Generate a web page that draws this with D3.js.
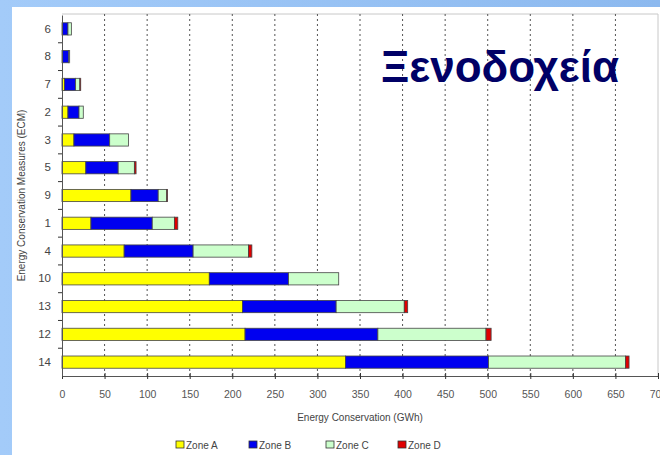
<html>

<head>
    <style>
        body { margin: 0; }
        svg { display: block; font-family: "Liberation Sans", Arial, sans-serif; }
    </style>
</head>

<body>
    <svg id="container" height="455" width="660">
        <defs>
            <linearGradient id="bg" x1="0" y1="0" x2="1" y2="0">
                <stop offset="0" stop-color="#a3cbf9"></stop>
                <stop offset="1" stop-color="#8cb9ef"></stop>
            </linearGradient>
        </defs>
        <rect width="660" height="455" fill="url(#bg)"></rect>
        <rect x="12" y="7" width="648" height="448" fill="#ffffff"></rect>
        <g id="body"></g>
    </svg>
</body>
<script src="https://cdn.jsdelivr.net/npm/d3@7"></script>
<script>
    // measures, top to bottom as drawn
    const categories = ["6", "8", "7", "2", "3", "5", "9", "1", "4", "10", "13", "12", "14"]
    const zoneA = [0, 0, 3, 7, 14, 28, 81, 34, 73, 173, 212, 215, 333]
    const zoneB = [7, 8, 13, 13, 42, 38, 32, 72, 81, 93, 110, 156, 168]
    const zoneC = [4, 1, 5, 5, 22, 19, 10, 26, 65, 59, 80, 127, 161]
    const zoneD = [0, 0, 1, 0, 0, 2, 1, 4, 4, 0, 4, 6, 4]
    const zones = ["Zone A", "Zone B", "Zone C", "Zone D"]
    const xTicks = d3.range(0, 701, 50)

    let body = d3.select("#body")

    let plotLeft = 62, plotRight = 658, plotTop = 15, plotBottom = 376

    let data = categories.map((c, i) => ({
        measure: c,
        "Zone A": zoneA[i],
        "Zone B": zoneB[i],
        "Zone C": zoneC[i],
        "Zone D": zoneD[i]
    }))

    let x = d3.scaleLinear().domain([0, 700]).range([plotLeft, plotRight])
    let y = d3.scaleBand().domain(categories).range([plotTop, plotBottom]).paddingInner(0.56).paddingOuter(0.28)

    let color = d3.scaleOrdinal()
        .domain(zones)
        .range(["#ffff00", "#0000f0", "#ccffcc", "#e00000"])

    // frame (top and right, light)
    body.append("path")
        .attr("d", `M${plotLeft},${plotTop - 1}H${plotRight}V${plotBottom}`)
        .attr("fill", "none")
        .attr("stroke", "#c8c8c8")

    // dashed grid lines
    body.selectAll(".grid")
        .data(xTicks.filter(t => t > 0 && t < 700))
        .enter()
        .append("line")
        .attr("x1", d => x(d)).attr("x2", d => x(d))
        .attr("y1", plotTop - 1).attr("y2", plotBottom)
        .attr("stroke", "#555")
        .attr("stroke-dasharray", "2,3")

    // stacked bars
    let stack = d3.stack().keys(zones)
    let layers = body.selectAll(".layer")
        .data(stack(data))
        .enter()
        .append("g")
        .attr("fill", d => color(d.key))
    layers.selectAll("rect")
        .data(d => d.filter(s => s[1] > s[0]))
        .enter()
        .append("rect")
        .attr("x", d => x(d[0]))
        .attr("y", d => y(d.data.measure))
        .attr("width", d => x(d[1]) - x(d[0]))
        .attr("height", y.bandwidth())
        .attr("stroke", "#444")
        .attr("stroke-width", 0.8)

    // x axis
    let xAxis = body.append("g")
        .attr("transform", `translate(0,${plotBottom})`)
        .call(d3.axisBottom(x).tickValues(xTicks).tickSize(3).tickPadding(12))
    xAxis.select(".domain").attr("stroke", "#555")
    xAxis.selectAll(".tick line").attr("stroke", "#333").attr("y1", -3)
    xAxis.selectAll("text").attr("fill", "#555").attr("font-size", 10.5)
        .attr("font-family", "Liberation Sans, Arial, sans-serif")

    // y axis: ticks sit on band boundaries
    let yAxis = body.append("g")
        .attr("transform", `translate(${plotLeft},0)`)
        .call(d3.axisLeft(y).tickSize(0).tickPadding(11))
    yAxis.select(".domain").attr("stroke", "#555")
    yAxis.selectAll("text").attr("fill", "#444").attr("font-size", 11.5)
        .attr("font-family", "Liberation Sans, Arial, sans-serif")
    let step = y.step()
    body.selectAll(".ytick")
        .data(categories.slice(1))
        .enter()
        .append("line")
        .attr("x1", plotLeft - 4).attr("x2", plotLeft)
        .attr("y1", d => y(d) - (step - y.bandwidth()) / 2)
        .attr("y2", d => y(d) - (step - y.bandwidth()) / 2)
        .attr("stroke", "#333")

    // axis titles
    body.append("text")
        .attr("x", (plotLeft + plotRight) / 2).attr("y", 421)
        .attr("text-anchor", "middle")
        .attr("font-size", 10).attr("fill", "#444")
        .text("Energy Conservation (GWh)")
    body.append("text")
        .attr("transform", `translate(25,${(plotTop + plotBottom) / 2}) rotate(-90)`)
        .attr("text-anchor", "middle")
        .attr("font-size", 10).attr("fill", "#444")
        .text("Energy Conservation Measures (ECM)")

    // legend
    let legendX = [176, 249, 326, 398]
    let legend = body.selectAll(".legend")
        .data(zones)
        .enter()
        .append("g")
        .attr("transform", (d, i) => `translate(${legendX[i]},445)`)
    legend.append("rect")
        .attr("x", 0).attr("y", -4)
        .attr("width", 8).attr("height", 7)
        .attr("fill", d => color(d))
        .attr("stroke", "#333").attr("stroke-width", 0.8)
    legend.append("text")
        .attr("x", 10).attr("y", 3.5)
        .attr("font-size", 10).attr("fill", "#444")
        .text(d => d)

    // title
    body.append("text")
        .attr("x", 500).attr("y", 82)
        .attr("text-anchor", "middle")
        .attr("font-size", 44).attr("font-weight", "bold")
        .attr("fill", "#000066")
        .text("Ξενοδοχεία")
</script>

</html>
